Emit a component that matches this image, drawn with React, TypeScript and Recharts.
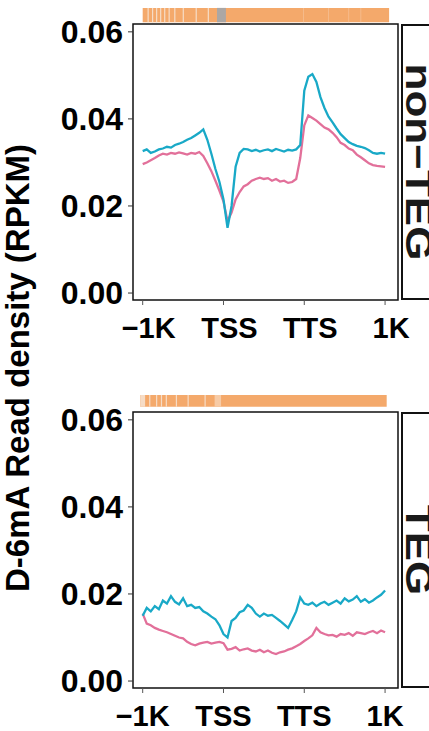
import React from 'react';
import { LineChart, Line, XAxis, YAxis, ReferenceArea } from 'recharts';

// bin position along the scaled gene: 0 = -1K, 100 = TSS, 200 = TTS, 300 = +1K
const positions = [
  0, 5, 10, 15, 20, 25, 30, 35, 40, 45, 50, 55, 60, 65, 70, 75, 80, 85, 90, 95,
  100, 105, 110, 115, 120, 125, 130, 135, 140, 145, 150, 155, 160, 165, 170, 175, 180, 185, 190, 195,
  200, 205, 210, 215, 220, 225, 230, 235, 240, 245, 250, 255, 260, 265, 270, 275, 280, 285, 290, 295, 300
];

const nonTegCyan = [
  0.0326, 0.0330, 0.0322, 0.0325, 0.0330, 0.0332, 0.0336, 0.0334, 0.0340, 0.0343,
  0.0347, 0.0352, 0.0356, 0.0362, 0.0368, 0.0376, 0.0352, 0.0320, 0.0285, 0.0255,
  0.0215, 0.0150, 0.0200, 0.0290, 0.0322, 0.0331, 0.0330, 0.0326, 0.0329, 0.0325,
  0.0328, 0.0330, 0.0326, 0.0331, 0.0328, 0.0325, 0.0329, 0.0327, 0.0330, 0.0340,
  0.0465, 0.0497, 0.0503, 0.0485, 0.0450, 0.0425, 0.0405, 0.0392, 0.0378, 0.0365,
  0.0356, 0.0347, 0.0342, 0.0338, 0.0336, 0.0333, 0.0328, 0.0322, 0.0320, 0.0322, 0.0320
];

const nonTegPink = [
  0.0296, 0.0300, 0.0305, 0.0310, 0.0316, 0.0320, 0.0318, 0.0322, 0.0320, 0.0323,
  0.0321, 0.0318, 0.0322, 0.0320, 0.0324, 0.0315, 0.0298, 0.0280, 0.0258, 0.0235,
  0.0210, 0.0165, 0.0185, 0.0215, 0.0232, 0.0245, 0.0250, 0.0258, 0.0262, 0.0265,
  0.0262, 0.0264, 0.0258, 0.0262, 0.0256, 0.0258, 0.0253, 0.0255, 0.0262, 0.0310,
  0.0385, 0.0408, 0.0402, 0.0396, 0.0388, 0.0380, 0.0376, 0.0368, 0.0358, 0.0345,
  0.0340, 0.0332, 0.0328, 0.0318, 0.0312, 0.0305, 0.0298, 0.0294, 0.0292, 0.0291, 0.0290
];

const tegCyan = [
  0.0150, 0.0168, 0.0160, 0.0172, 0.0165, 0.0185, 0.0178, 0.0195, 0.0182, 0.0176,
  0.0190, 0.0172, 0.0175, 0.0168, 0.0170, 0.0160, 0.0155, 0.0148, 0.0142, 0.0128,
  0.0108, 0.0100, 0.0138, 0.0145, 0.0158, 0.0162, 0.0175, 0.0168, 0.0155, 0.0148,
  0.0155, 0.0150, 0.0152, 0.0145, 0.0138, 0.0130, 0.0122, 0.0140, 0.0160, 0.0192,
  0.0178, 0.0175, 0.0180, 0.0172, 0.0178, 0.0182, 0.0175, 0.0180, 0.0185, 0.0178,
  0.0190, 0.0183, 0.0187, 0.0195, 0.0182, 0.0188, 0.0180, 0.0185, 0.0192, 0.0198, 0.0208
];

const tegPink = [
  0.0155, 0.0132, 0.0128, 0.0122, 0.0118, 0.0115, 0.0112, 0.0108, 0.0104, 0.0100,
  0.0098, 0.0090, 0.0085, 0.0082, 0.0086, 0.0088, 0.0090, 0.0086, 0.0088, 0.0090,
  0.0087, 0.0072, 0.0074, 0.0078, 0.0070, 0.0073, 0.0075, 0.0070, 0.0068, 0.0072,
  0.0066, 0.0070, 0.0065, 0.0062, 0.0066, 0.0068, 0.0072, 0.0075, 0.0080, 0.0085,
  0.0092, 0.0098, 0.0105, 0.0122, 0.0112, 0.0108, 0.0105, 0.0106, 0.0102, 0.0108,
  0.0106, 0.0110, 0.0104, 0.0112, 0.0110, 0.0108, 0.0112, 0.0115, 0.0110, 0.0116, 0.0112
];

const xTicks = [0, 100, 200, 300];
const xTickLabels = ['−1K', 'TSS', 'TTS', '1K'];
const yTicks = [0, 0.02, 0.04, 0.06];

// significance strip above each panel: [from, to, level]
const nonTegStrip: [number, number, string][] = [
  [0, 305, 'sig'], [6, 7.5, 'weak'], [11.5, 13, 'weak'], [16.5, 18, 'weak'], [21.5, 23, 'weak'],
  [26.5, 28, 'weak'], [32, 33.5, 'weak'], [39, 40.5, 'weak'], [49.5, 51, 'weak'], [65.5, 67, 'weak'],
  [80.5, 82, 'weak'], [92, 103, 'ns'], [198.5, 199.5, 'faint'], [229.5, 230.5, 'faint'],
  [254.5, 255.5, 'faint'], [269.5, 270.5, 'faint']
];
const tegStrip: [number, number, string][] = [
  [-3, 302, 'sig'], [-3, 3, 'weak'], [8, 9.5, 'weak'], [16.5, 18, 'weak'], [22.5, 24, 'weak'],
  [28.5, 30, 'weak'], [41, 42.5, 'weak'], [55.5, 57, 'weak'], [76.5, 78, 'weak'], [89, 97, 'pale']
];

const levelColor: Record<string, string> = {
  sig: '#F4A96B',
  weak: '#F6DCC6',
  faint: '#F6BE92',
  pale: '#F7CBA6',
  ns: '#ABA7A5'
};

const FONT = '"Liberation Sans", Arial, sans-serif';
const X_DOMAIN: [number, number] = [-12, 316];
const Y_DOMAIN: [number, number] = [-0.0016, 0.0618];

interface PanelProps {
  cyan: number[];
  pink: number[];
  strip: [number, number, string][];
  stripY: [number, number];
  label: string;
  top: number;
  tickShift: number;
}

const Panel: React.FC<PanelProps> = ({ cyan, pink, strip, stripY, label, top, tickShift }) => {
  const data = positions.map((p, i) => ({ pos: p, cyan: cyan[i], pink: pink[i] }));
  return (
    <div style={{ position: 'absolute', left: 0, top, width: 429, height: 350 }}>
      <LineChart width={429} height={350} data={data} margin={{ top: 24, right: 31, left: 0, bottom: 0 }}>
        <XAxis
          dataKey="pos"
          type="number"
          domain={X_DOMAIN}
          allowDataOverflow
          ticks={xTicks}
          tickFormatter={(v: number) => xTickLabels[xTicks.indexOf(v)]}
          axisLine={false}
          tickSize={5}
          tickMargin={12}
          height={50}
          tickLine={{ stroke: '#555' }}
          tick={{ fill: '#000', fontSize: 29, fontWeight: 700, fontFamily: FONT, dx: tickShift }}
          interval={0}
        />
        <YAxis
          type="number"
          domain={Y_DOMAIN}
          allowDataOverflow
          ticks={yTicks}
          tickFormatter={(v: number) => v.toFixed(2)}
          axisLine={false}
          tickSize={5}
          tickMargin={5}
          width={133}
          tickLine={{ stroke: '#333' }}
          tick={{ fill: '#000', fontSize: 32, fontWeight: 700, fontFamily: FONT }}
          interval={0}
        />
        {strip.map(([x1, x2, level], i) => (
          <ReferenceArea
            key={i}
            x1={x1}
            x2={x2}
            y1={stripY[0]}
            y2={stripY[1]}
            ifOverflow="visible"
            fill={levelColor[level]}
            fillOpacity={1}
            stroke="none"
          />
        ))}
        <Line type="linear" dataKey="pink" stroke="#E2709A" strokeWidth={2.3} dot={false} isAnimationActive={false} />
        <Line type="linear" dataKey="cyan" stroke="#19A9C7" strokeWidth={2.3} dot={false} isAnimationActive={false} />
        <ReferenceArea
          x1={X_DOMAIN[0]}
          x2={X_DOMAIN[1]}
          y1={Y_DOMAIN[0]}
          y2={Y_DOMAIN[1]}
          ifOverflow="visible"
          fill="none"
          stroke="#111"
          strokeWidth={1.5}
        />
      </LineChart>
      <div
        style={{
          position: 'absolute',
          left: 401,
          top: 24,
          width: 46,
          height: 276,
          boxSizing: 'border-box',
          border: '2px solid #111',
          background: '#fff'
        }}
      />
      <span
        style={{
          position: 'absolute',
          left: 400,
          top: 162,
          transform: 'translateY(-50%) scaleX(0.85)',
          transformOrigin: 'left center',
          writingMode: 'vertical-rl',
          fontFamily: FONT,
          fontWeight: 700,
          fontSize: 44,
          lineHeight: 1,
          color: '#1a1a1a',
          whiteSpace: 'nowrap'
        }}
      >
        {label}
      </span>
    </div>
  );
};

export default function App() {
  return (
    <div
      style={{
        position: 'absolute',
        left: 0,
        top: 0,
        width: 429,
        height: 731,
        overflow: 'hidden',
        background: '#fff'
      }}
    >
      <Panel cyan={nonTegCyan} pink={nonTegPink} strip={nonTegStrip} stripY={[0.0622, 0.0655]} label="non−TEG" top={0} tickShift={6} />
      <Panel cyan={tegCyan} pink={tegPink} strip={tegStrip} stripY={[0.063, 0.0657]} label="TEG" top={388} tickShift={0} />
      <div
        style={{
          position: 'absolute',
          left: 18,
          top: 368,
          transform: 'translate(-50%, -50%) rotate(-90deg)',
          fontFamily: FONT,
          fontWeight: 700,
          fontSize: 33,
          whiteSpace: 'nowrap',
          color: '#000'
        }}
      >
        D-6mA Read density (RPKM)
      </div>
    </div>
  );
}
